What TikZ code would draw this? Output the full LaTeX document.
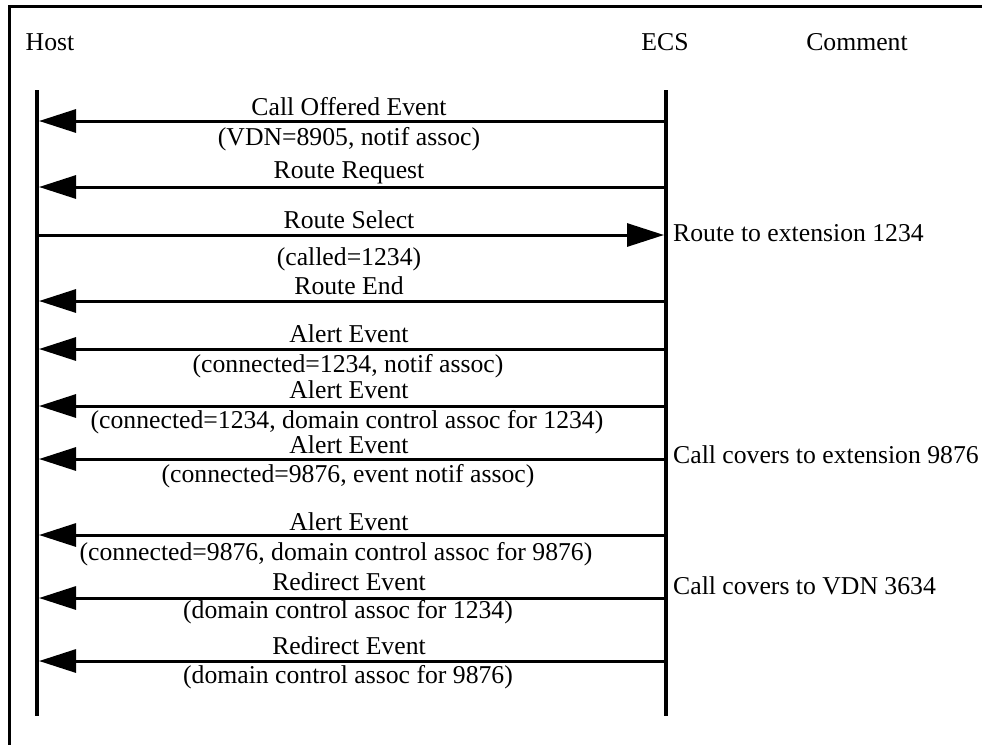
\documentclass[tikz,border=0pt]{standalone}
\usepackage{fontspec}
\setmainfont{Liberation Serif}
\usetikzlibrary{arrows.meta,positioning}

\tikzset{
  lbl/.style={anchor=base,inner sep=0pt,font=\fontsize{25.7}{30}\selectfont},
  note/.style={anchor=base west,inner sep=0pt,font=\fontsize{25.7}{30}\selectfont},
  life/.style={line width=3.2pt},
  msg/.style={line width=3pt,-{Triangle[length=37pt,width=23pt]}}
}

\begin{document}
\begin{tikzpicture}[x=1pt,y=-1pt]
        \useasboundingbox (0,0) rectangle (982,745);
        % Frame
        \draw[line width=3pt] (982,6.5) -- (9.5,6.5) -- (9.5,745);

        % Headings
        \node[lbl] (host) at (50,50) {Host};
        \node[lbl] (ecs) at (665,50) {ECS};
        \node[lbl] (comment) at (857,50) {Comment};

        % Lifelines
        \coordinate (htop) at (37,90);
        \coordinate (hbot) at (37,716);
        \coordinate (etop) at (666,90);
        \coordinate (ebot) at (666,716);
        \draw[life] (htop) -- (hbot);
        \draw[life] (etop) -- (ebot);

        % Message end points
        \coordinate (h1) at (39,121);  \coordinate (e1) at (666,121);
        \coordinate (h2) at (39,187);  \coordinate (e2) at (666,187);
        \coordinate (h3) at (37,235);  \coordinate (e3) at (664,235);
        \coordinate (h4) at (39,301);  \coordinate (e4) at (666,301);
        \coordinate (h5) at (39,349);  \coordinate (e5) at (666,349);
        \coordinate (h6) at (39,406);  \coordinate (e6) at (666,406);
        \coordinate (h7) at (39,459);  \coordinate (e7) at (666,459);
        \coordinate (h8) at (39,535);  \coordinate (e8) at (666,535);
        \coordinate (h9) at (39,598);  \coordinate (e9) at (666,598);
        \coordinate (h10) at (39,661); \coordinate (e10) at (666,661);

        % Messages
        \draw[msg] (e1) -- (h1);
        \draw[msg] (e2) -- (h2);
        \draw[msg] (h3) -- (e3);
        \draw[msg] (e4) -- (h4);
        \draw[msg] (e5) -- (h5);
        \draw[msg] (e6) -- (h6);
        \draw[msg] (e7) -- (h7);
        \draw[msg] (e8) -- (h8);
        \draw[msg] (e9) -- (h9);
        \draw[msg] (e10) -- (h10);

        % Message labels
        \node[lbl] (m1) at (349,115) {Call Offered Event};
        \node[lbl] (p1) at (349,145) {(VDN=8905, notif assoc)};
        \node[lbl] (m2) at (349,178) {Route Request};
        \node[lbl] (m3) at (349,228) {Route Select};
        \node[lbl] (p3) at (349,265) {(called=1234)};
        \node[lbl] (m4) at (349,294) {Route End};
        \node[lbl] (m5) at (349,342) {Alert Event};
        \node[lbl] (p5) at (348,372) {(connected=1234, notif assoc)};
        \node[lbl] (m6) at (349,398) {Alert Event};
        \node[lbl] (p6) at (347,428) {(connected=1234, domain control assoc for 1234)};
        \node[lbl] (m7) at (349,453) {Alert Event};
        \node[lbl] (p7) at (348,482) {(connected=9876, event notif assoc)};
        \node[lbl] (m8) at (349,530) {Alert Event};
        \node[lbl] (p8) at (336,560) {(connected=9876, domain control assoc for 9876)};
        \node[lbl] (m9) at (349,590) {Redirect Event};
        \node[lbl] (p9) at (348,618) {(domain control assoc for 1234)};
        \node[lbl] (m10) at (349,654) {Redirect Event};
        \node[lbl] (p10) at (348,683) {(domain control assoc for 9876)};

        % Comments
        \node[note] (c3) at (673,241) {Route to extension 1234};
        \node[note] (c7) at (673,463) {Call covers to extension 9876};
        \node[note] (c9) at (673,594) {Call covers to VDN 3634};
    \end{tikzpicture}
\end{document}
